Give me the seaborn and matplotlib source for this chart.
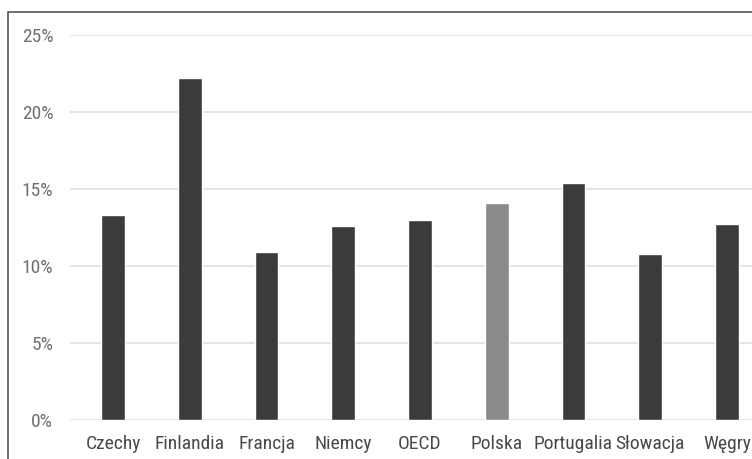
import matplotlib
matplotlib.use("Agg")
import matplotlib.pyplot as plt
from matplotlib.patches import Rectangle
from matplotlib.ticker import FuncFormatter
import seaborn as sns
import pandas as pd

countries = ["Czechy", "Finlandia", "Francja", "Niemcy", "OECD",
             "Polska", "Portugalia", "Słowacja", "Węgry"]
values = [13.3, 22.2, 10.9, 12.6, 13.0, 14.1, 15.4, 10.8, 12.7]
yticks = [0, 5, 10, 15, 20, 25]

DARK = "#3b3b3b"
LIGHT = "#8a8a8a"
colors = [LIGHT if c == "Polska" else DARK for c in countries]

sns.set_theme(style="white")
plt.rcParams["font.family"] = ["Roboto Condensed", "Roboto", "DejaVu Sans"]

df = pd.DataFrame({"kraj": countries, "wartosc": values})

W, H = 752, 459
fig = plt.figure(figsize=(W / 100, H / 100), dpi=100)
left, right, top, bottom = 70, 752, 35, 420
ax = fig.add_axes([left / W, 1 - bottom / H, (right - left) / W, (bottom - top) / H])

sns.barplot(data=df, x="kraj", y="wartosc", hue="kraj", palette=colors,
            legend=False, width=0.31, ax=ax, saturation=1)

ax.set_ylim(0, 25)
ax.set_xlim(-0.56, 8.326)
ax.set_yticks(yticks)
ax.yaxis.set_major_formatter(FuncFormatter(lambda v, _: f"{v:.0f}%"))
ax.grid(axis="y", color="#dcdcdc", linewidth=1.1)
ax.set_axisbelow(True)
for s in ax.spines.values():
    s.set_visible(False)
ax.set_xlabel("")
ax.set_ylabel("")
ax.tick_params(axis="y", length=0, pad=12, labelsize=14, labelcolor="#707070")
ax.tick_params(axis="x", length=0, pad=11, labelsize=14, labelcolor="#484848")

# outer frame of the chart area
fig.patches.append(Rectangle((8 / W, -0.1), 1.2, 1 - 12 / H + 0.1,
                             transform=fig.transFigure, fill=False,
                             edgecolor="#555555", linewidth=1.2))

fig.savefig("out.png", dpi=100)
